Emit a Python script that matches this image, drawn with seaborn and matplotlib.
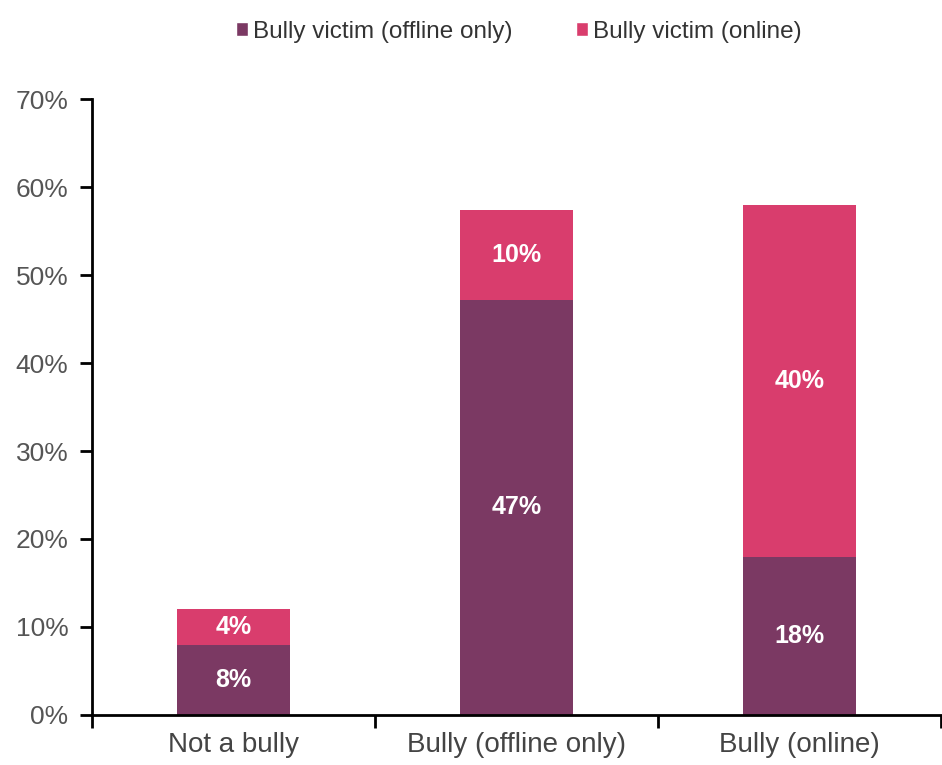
import matplotlib
matplotlib.use("Agg")
import matplotlib.pyplot as plt
import seaborn as sns
import pandas as pd
from matplotlib.patches import Patch

categories = ["Not a bully", "Bully (offline only)", "Bully (online)"]
offline_only = [8.0, 47.2, 18.0]
online = [4.0, 10.2, 40.0]
offline_labels = ["8%", "47%", "18%"]
online_labels = ["4%", "10%", "40%"]
series_names = ["Bully victim (offline only)", "Bully victim (online)"]
yticks = [0, 10, 20, 30, 40, 50, 60, 70]

purple = "#7B3963"
pink = "#D93D6D"

sns.set_theme(style="white")
plt.rcParams["font.family"] = ["Liberation Sans", "DejaVu Sans"]

df = pd.DataFrame({
    "category": categories,
    "offline": offline_only,
    "online": online,
})
df["total"] = df["offline"] + df["online"]

fig = plt.figure(figsize=(9.42, 7.65), dpi=100)
ax = fig.add_axes([92 / 942, 50 / 765, 1 - 92 / 942 - 0.001, (715 - 99) / 765])

sns.barplot(data=df, x="category", y="total", color=pink, width=0.4,
            saturation=1, ax=ax, order=categories, linewidth=0)
sns.barplot(data=df, x="category", y="offline", color=purple, width=0.4,
            saturation=1, ax=ax, order=categories, linewidth=0)

for i in range(len(categories)):
    ax.text(i, offline_only[i] / 2, offline_labels[i], ha="center", va="center",
            color="white", fontsize=18, fontweight="bold")
    ax.text(i, offline_only[i] + online[i] / 2, online_labels[i], ha="center",
            va="center", color="white", fontsize=18, fontweight="bold")

ax.set_xlim(-0.5, 2.5)
ax.set_ylim(0, 70)
ax.set_yticks(yticks)
ax.set_yticklabels([f"{t}%" for t in yticks], fontsize=19, color="#555555")
ax.set_xticks(range(len(categories)))
ax.set_xticklabels(categories, fontsize=20, color="#444444")
ax.set_xticks([-0.5, 0.5, 1.5, 2.5], minor=True)
ax.tick_params(axis="x", which="major", length=0, pad=12)
ax.tick_params(axis="x", which="minor", length=9, width=2, color="black",
               direction="out", bottom=True)
ax.tick_params(axis="y", which="major", length=9, width=2, color="black",
               direction="out", left=True, pad=8)
ax.set_xlabel("")
ax.set_ylabel("")

for s in ["top", "right"]:
    ax.spines[s].set_visible(False)
for s in ["left", "bottom"]:
    ax.spines[s].set_color("black")
    ax.spines[s].set_linewidth(2)

handles = [Patch(facecolor=purple, label=series_names[0]),
           Patch(facecolor=pink, label=series_names[1])]
fig.legend(handles=handles, loc="center", bbox_to_anchor=(519 / 942, 1 - 32 / 765),
           ncol=2, frameon=False, fontsize=17.5, handlelength=0.5, handleheight=0.5,
           handletextpad=0.2, columnspacing=2.6, labelcolor="#333333")

fig.savefig("out.png", dpi=100)
